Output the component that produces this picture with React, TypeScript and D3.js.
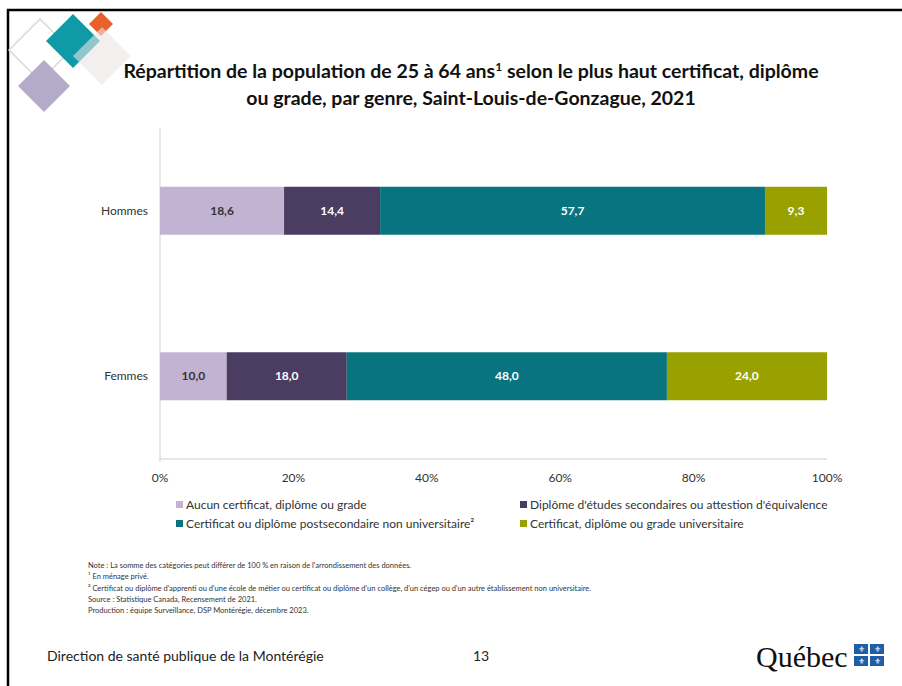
import React from "react";
import * as d3 from "d3";

const categories = ["Hommes", "Femmes"];
const seriesNames = [
  "Aucun certificat, diplôme ou grade",
  "Diplôme d'études secondaires ou attestion d'équivalence",
  "Certificat ou diplôme postsecondaire non universitaire²",
  "Certificat, diplôme ou grade universitaire",
];
const aucun = [18.6, 10.0];
const secondaire = [14.4, 18.0];
const postsec = [57.7, 48.0];
const universitaire = [9.3, 24.0];
const xTicks = [0, 20, 40, 60, 80, 100];
const colors = ["#C3B3D3", "#4B3C62", "#077480", "#99A100"];
const labelColors = ["#333333", "#ffffff", "#ffffff", "#ffffff"];
const notes = [
  "Note : La somme des catégories peut différer de 100 % en raison de l'arrondissement des données.",
  "¹ En ménage privé.",
  "² Certificat ou diplôme d'apprenti ou d'une école de métier ou certificat ou diplôme d'un collège, d'un cégep ou d'un autre établissement non universitaire.",
  "Source : Statistique Canada, Recensement de 2021.",
  "Production : équipe Surveillance, DSP Montérégie, décembre 2023.",
];

const FONT = "Lato, 'Open Sans', sans-serif";

export default function App() {
  const W = 902, H = 686;
  const left = 160, right = 827, top = 128, bottom = 459;
  const x = d3.scaleLinear().domain([0, 100]).range([left, right]);
  const y = d3.scaleBand().domain(categories).range([top, bottom]).paddingInner(0.71).paddingOuter(0.355);

  const rows = categories.map((c, i) => ({
    cat: c,
    vals: [aucun[i], secondaire[i], postsec[i], universitaire[i]],
  }));
  const stackData = rows.map((r) => {
    const o: any = { cat: r.cat };
    r.vals.forEach((v, k) => (o["s" + k] = v));
    return o;
  });
  const keys = ["s0", "s1", "s2", "s3"];
  const stacked = d3.stack().keys(keys)(stackData);

  const fmt = (v: number) => v.toFixed(1).replace(".", ",");

  const diamond = (cx: number, cy: number, r: number) =>
    `M${cx},${cy - r}L${cx + r},${cy}L${cx},${cy + r}L${cx - r},${cy}Z`;

  const legendPos = [
    [176, 505],
    [520, 505],
    [176, 524],
    [520, 524],
  ];

  return (
    <svg width={W} height={H} style={{ position: "absolute", left: 0, top: 0, background: "#fff" }} fontFamily={FONT}>
      <rect x={0} y={0} width={W} height={H} fill="#fff" />
      {/* frame */}
      <rect x={8} y={10} width={1200} height={1200} fill="none" stroke="#000" strokeWidth={2.5} />

      {/* decorative logo */}
      <path d={diamond(40, 50, 31)} fill="none" stroke="#D5DDD0" strokeWidth={1.5} />
      <path d={diamond(73, 41, 27)} fill="#0E9AA7" />
      <path d={diamond(101, 24, 12)} fill="#E8602B" />
      <path d={diamond(102, 56, 29)} fill="#E9E6E4" fillOpacity={0.6} />
      <path d={diamond(44, 86, 26)} fill="#B3ABC8" />

      {/* title */}
      <text x={471} y={78} textAnchor="middle" fontSize={19.5} fontWeight="bold" fill="#111">
        Répartition de la population de 25 à 64 ans<tspan fontSize={12} dy={-7}>1</tspan>
        <tspan dy={7}> selon le plus haut certificat, diplôme</tspan>
      </text>
      <text x={471} y={105} textAnchor="middle" fontSize={19.5} fontWeight="bold" fill="#111">
        ou grade, par genre, Saint-Louis-de-Gonzague, 2021
      </text>

      {/* axes */}
      <line x1={left} x2={left} y1={top} y2={bottom + 3} stroke="#CFCFCF" />
      <line x1={left} x2={right} y1={bottom} y2={bottom} stroke="#CFCFCF" />
      {xTicks.map((t) => (
        <text key={t} x={x(t)} y={482} textAnchor="middle" fontSize={12} fill="#333">
          {t}%
        </text>
      ))}
      {categories.map((c) => (
        <text key={c} x={148} y={(y(c) as number) + y.bandwidth() / 2 + 4} textAnchor="end" fontSize={12} fill="#333">
          {c}
        </text>
      ))}

      {/* bars */}
      {stacked.map((layer, k) => (
        <g key={layer.key}>
          {layer.map((d: any) => {
            const cat = d.data.cat;
            const x0 = x(d[0]), x1 = x(d[1]);
            const yy = y(cat) as number;
            return (
              <g key={cat}>
                <rect x={x0} y={yy} width={x1 - x0} height={y.bandwidth()} fill={colors[k]} />
                <text
                  x={(x0 + x1) / 2}
                  y={yy + y.bandwidth() / 2 + 4}
                  textAnchor="middle"
                  fontSize={12}
                  fontWeight="bold"
                  fill={labelColors[k]}
                >
                  {fmt(d[1] - d[0])}
                </text>
              </g>
            );
          })}
        </g>
      ))}

      {/* legend */}
      {seriesNames.map((n, k) => (
        <g key={n}>
          <rect x={legendPos[k][0]} y={legendPos[k][1] - 4} width={7} height={7} fill={colors[k]} />
          <text x={legendPos[k][0] + 10} y={legendPos[k][1] + 4} fontSize={12} fill="#333">
            {n}
          </text>
        </g>
      ))}

      {/* notes */}
      {notes.map((n, i) => (
        <text key={i} x={88} y={568 + i * 11.3} fontSize={7.5} fill="#333">
          {n}
        </text>
      ))}

      {/* footer */}
      <text x={47} y={661} fontSize={14} fill="#222">
        Direction de santé publique de la Montérégie
      </text>
      <text x={473} y={661} fontSize={14} fill="#222">
        13
      </text>
      <text x={756} y={667} fontSize={30} fill="#111" fontFamily="'Liberation Serif', serif">
        Québec
      </text>
      {[0, 1].map((r) =>
        [0, 1].map((c) => (
          <g key={`${r}${c}`}>
            <rect x={854 + c * 16} y={644 + r * 12} width={14} height={10} fill="#1F5FA8" />
            <text x={861 + c * 16} y={652 + r * 12} textAnchor="middle" fontSize={8} fill="#fff">
              ⚜
            </text>
          </g>
        ))
      )}
    </svg>
  );
}
